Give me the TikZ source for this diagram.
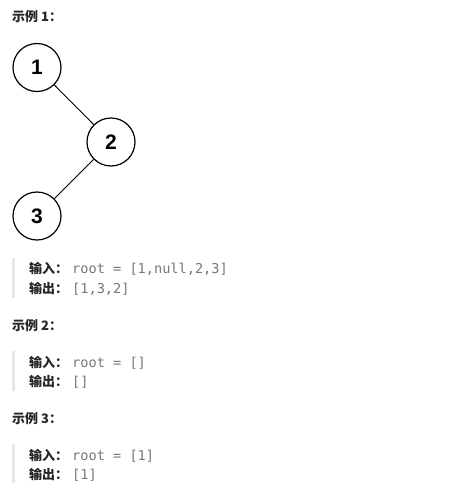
\documentclass[tikz,border=0pt]{standalone}
\usepackage{fontspec}
\setmainfont{Liberation Sans}
\setmonofont{DejaVu Sans Mono}
\newfontfamily\cjk{Noto Sans CJK SC}
\usetikzlibrary{positioning}
\definecolor{labelcol}{RGB}{38,38,38}
\definecolor{codecol}{RGB}{112,120,130}
\definecolor{barcol}{RGB}{230,230,230}

\tikzset{
	treenode/.style={circle, draw, line width=1.2pt, minimum size=48pt, inner sep=0pt, font=\fontsize{21}{21}\selectfont\bfseries},
	heading/.style={anchor=base west, inner sep=0pt, text=labelcol, font=\cjk\bfseries\fontsize{13}{13}\selectfont},
	label/.style={heading},
	code/.style={anchor=base west, inner sep=0pt, text=codecol, font=\ttfamily\fontsize{13.6}{13.6}\selectfont},
	quotebar/.style={fill=barcol, draw=none}
}

\begin{document}
\begin{tikzpicture}[x=1pt, y=-1pt]
	\def\Lx{12}
	\def\Ix{29}
	\def\Cx{72}

	\useasboundingbox[fill=white] (0,0) rectangle (458,501);

	% example 1
	\node[heading] (h1) at (\Lx,21) {示例 1：};
	\node[treenode] (n1) at (37,67.5) {1};
	\node[treenode] (n2) at (111,142) {2};
	\node[treenode] (n3) at (37,216) {3};
	\draw[line width=0.9pt] (n1) -- (n2);
	\draw[line width=0.9pt] (n2) -- (n3);

	\fill[quotebar] (\Lx,258) rectangle ++(3,40);
	\node[label] (in1) at (\Ix,273) {输入：};
	\node[code] (inv1) at (\Cx,273) {root = [1,null,2,3]};
	\node[label] (out1) at (\Ix,293) {输出：};
	\node[code] (outv1) at (\Cx,293) {[1,3,2]};

	% example 2
	\node[heading] (h2) at (\Lx,330) {示例 2：};
	\fill[quotebar] (\Lx,351) rectangle ++(3,40);
	\node[label] (in2) at (\Ix,367) {输入：};
	\node[code] (inv2) at (\Cx,367) {root = []};
	\node[label] (out2) at (\Ix,386) {输出：};
	\node[code] (outv2) at (\Cx,386) {[]};

	% example 3
	\node[heading] (h3) at (\Lx,423) {示例 3：};
	\fill[quotebar] (\Lx,444) rectangle ++(3,39);
	\node[label] (in3) at (\Ix,460) {输入：};
	\node[code] (inv3) at (\Cx,460) {root = [1]};
	\node[label] (out3) at (\Ix,479) {输出：};
	\node[code] (outv3) at (\Cx,479) {[1]};
\end{tikzpicture}
\end{document}
